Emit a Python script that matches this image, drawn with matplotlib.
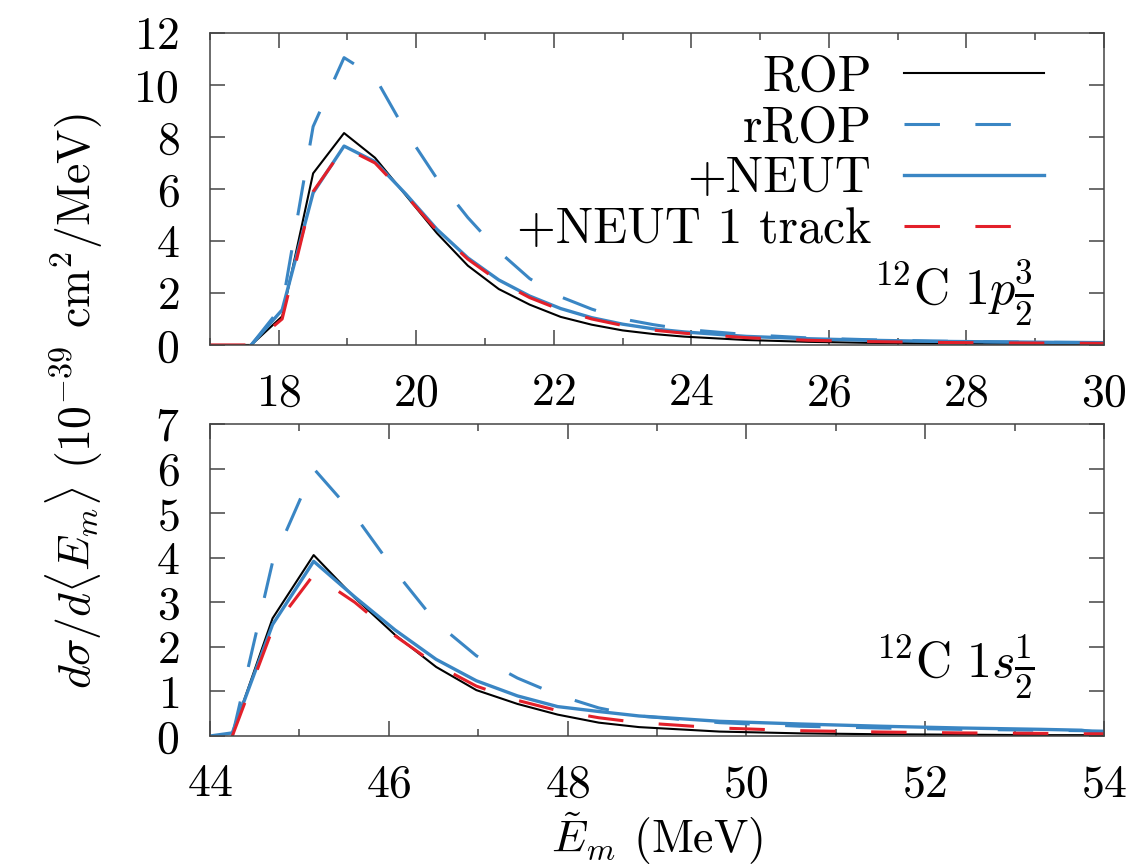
import numpy as np
import matplotlib
matplotlib.use('Agg')
import matplotlib.pyplot as plt
from matplotlib.ticker import MultipleLocator

# Fonte estilo LaTeX (Computer Modern)
plt.rcParams['font.family'] = 'serif'
plt.rcParams['font.serif'] = ['cmr10']
plt.rcParams['mathtext.fontset'] = 'cm'
plt.rcParams['axes.formatter.use_mathtext'] = True

AZUL = '#3a86c4'
VERMELHO = '#e3202a'
FONTE = 33
FONTE_LEG = 36
TRACO = (0, (11.6, 11.6))

# ---- painel superior: 12C 1p3/2 ----
x_p = [17.0, 17.6, 18.05, 18.5, 18.95, 19.4, 19.85, 20.3, 20.75, 21.2, 21.65, 22.1,
       22.55, 23.0, 23.45, 23.9, 24.8, 25.7, 26.6, 27.5, 28.4, 29.3, 30.0]
rop_p = [0, 0, 1.1, 6.6, 8.15, 7.2, 5.75, 4.3, 3.05, 2.15, 1.55, 1.08,
         0.78, 0.56, 0.42, 0.32, 0.19, 0.12, 0.08, 0.06, 0.05, 0.04, 0.03]
rrop_p = [np.nan, 0, 1.5, 8.4, 11.05, 10.3, 8.2, 6.4, 4.9, 3.6, 2.55, 1.85,
          1.38, 1.0, 0.78, 0.6, 0.4, 0.27, 0.2, 0.15, 0.12, 0.1, 0.09]
neut_p = [np.nan, 0, 1.35, 5.85, 7.65, 7.05, 5.8, 4.45, 3.35, 2.5, 1.88, 1.4,
          1.05, 0.8, 0.62, 0.5, 0.33, 0.24, 0.18, 0.14, 0.12, 0.1, 0.09]
neut1_p = [0, 0, 1.0, 5.9, 7.6, 7.0, 5.75, 4.4, 3.3, 2.45, 1.82, 1.35,
           1.0, 0.75, 0.57, 0.45, 0.28, 0.18, 0.13, 0.1, 0.08, 0.07, 0.06]

# ---- painel inferior: 12C 1s1/2 ----
x_s = [44.0, 44.25, 44.7, 45.16, 45.62, 46.07, 46.53, 46.98, 47.44, 47.89, 48.35,
       48.8, 49.7, 50.6, 51.5, 52.4, 53.3, 53.75, 54.0]
rop_s = [np.nan, 0.05, 2.64, 4.06, 3.1, 2.27, 1.55, 1.03, 0.72, 0.48, 0.3,
         0.2, 0.1, 0.06, 0.04, 0.03, 0.02, 0.02, 0.02]
rrop_s = [np.nan, 0, 3.9, 6.0, 4.95, 3.7, 2.55, 1.8, 1.3, 0.92, 0.63,
          0.45, 0.3, 0.22, 0.18, 0.15, 0.13, 0.12, 0.11]
neut_s = [0, 0.07, 2.5, 3.92, 3.12, 2.38, 1.72, 1.24, 0.9, 0.66, 0.55,
          0.45, 0.33, 0.27, 0.22, 0.18, 0.15, 0.13, 0.06]
neut1_s = [np.nan, 0, 2.4, 3.62, 3.0, 2.25, 1.6, 1.12, 0.8, 0.57, 0.41,
           0.3, 0.18, 0.12, 0.09, 0.07, 0.06, 0.05, 0.05]

labels = ['ROP', 'rROP', '+NEUT', '+NEUT 1 track']

fig = plt.figure(figsize=(11.48, 8.65), dpi=100)
ax1 = fig.add_axes([0.1829, 0.6012, 0.7787, 0.3607])
ax2 = fig.add_axes([0.1829, 0.1491, 0.7787, 0.3607])


def desenha(ax, x, rop, rrop, neut, neut1):
    ax.plot(x, rop, color='black', lw=1.5, label=labels[0])
    ax.plot(x, rrop, color=AZUL, lw=2.2, linestyle=TRACO, label=labels[1])
    ax.plot(x, neut, color=AZUL, lw=2.4, label=labels[2])
    ax.plot(x, neut1, color=VERMELHO, lw=2.2, linestyle=TRACO, label=labels[3])


def estilo(ax, ymaj):
    ax.xaxis.set_major_locator(MultipleLocator(2))
    ax.xaxis.set_minor_locator(MultipleLocator(1))
    ax.yaxis.set_major_locator(MultipleLocator(ymaj))
    ax.tick_params(which='both', direction='in', top=True, right=True,
                   labelsize=FONTE, width=1.1, color='#444444')
    ax.tick_params(which='major', length=11)
    ax.tick_params(which='minor', length=5)
    ax.tick_params(axis='x', pad=20)
    ax.tick_params(axis='y', pad=22)
    for s in ax.spines.values():
        s.set_linewidth(1.1)
        s.set_color('#444444')


desenha(ax1, x_p, rop_p, rrop_p, neut_p, neut1_p)
ax1.set_xlim(17, 30)
ax1.set_ylim(0, 12)
estilo(ax1, 2)
ax1.legend(loc='upper right', bbox_to_anchor=(0.933, 0.93), frameon=False,
           markerfirst=False, fontsize=FONTE_LEG, handlelength=2.8, labelspacing=0.1,
           borderaxespad=0, borderpad=0, handletextpad=0.65)
ax1.text(0.922, 0.05, r'$^{12}\mathrm{C}\ 1p\frac{3}{2}$', transform=ax1.transAxes,
         ha='right', va='bottom', fontsize=FONTE_LEG)

desenha(ax2, x_s, rop_s, rrop_s, neut_s, neut1_s)
ax2.set_xlim(44, 54)
ax2.set_ylim(0, 7)
estilo(ax2, 1)
ax2.text(0.922, 0.112, r'$^{12}\mathrm{C}\ 1s\frac{1}{2}$', transform=ax2.transAxes,
         ha='right', va='bottom', fontsize=FONTE_LEG)

fig.text(0.065, 0.536, r'$d\sigma/d\langle E_m\rangle$ (10$^{-39}$ cm$^2$/MeV)',
         rotation=90, ha='center', va='center', fontsize=FONTE)
fig.text(0.572, 0.031, r'$\tilde{E}_m$ (MeV)', ha='center', va='center', fontsize=FONTE)

fig.savefig('out.png', dpi=100)
